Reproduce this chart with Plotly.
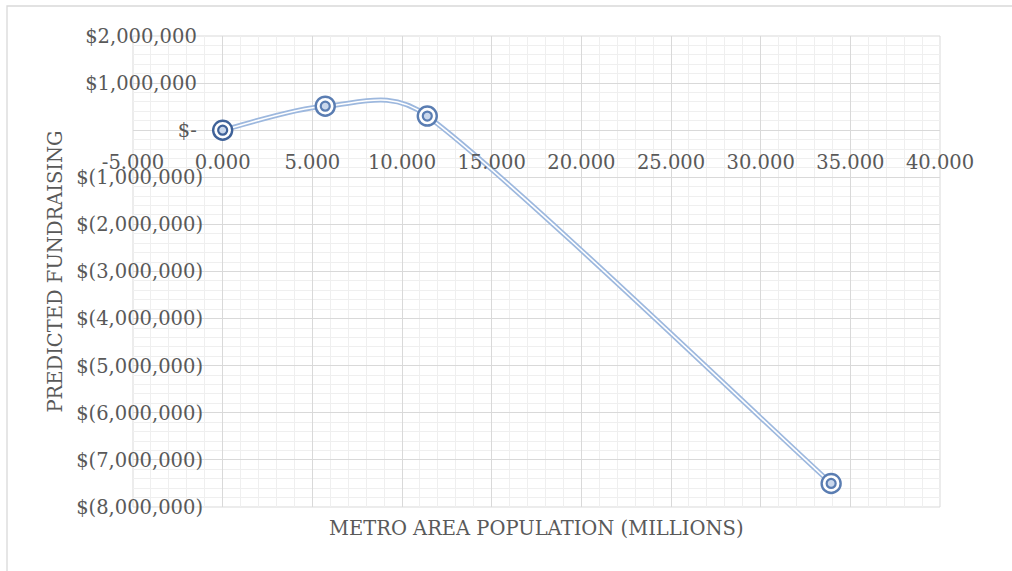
import math
import plotly.graph_objects as go

# Data
population_millions = [0.0, 5.72, 11.41, 33.93]
predicted_fundraising = [0, 510000, 300000, -7500000]

x_tick_vals = [-5, 0, 5, 10, 15, 20, 25, 30, 35, 40]
x_tick_text = ["-5.000", "0.000", "5.000", "10.000", "15.000", "20.000",
               "25.000", "30.000", "35.000", "40.000"]
y_tick_vals = [2000000, 1000000, 0, -1000000, -2000000, -3000000, -4000000,
               -5000000, -6000000, -7000000, -8000000]
y_tick_text = ["$2,000,000\u00a0", "$1,000,000\u00a0", "$-\u00a0", "$(1,000,000)",
               "$(2,000,000)", "$(3,000,000)", "$(4,000,000)", "$(5,000,000)",
               "$(6,000,000)", "$(7,000,000)", "$(8,000,000)"]

X_RANGE = [-5, 40]
Y_RANGE = [-8000000, 2000000]
W, H = 1012, 571
M = dict(l=133, r=72, t=36, b=64)
PW, PH = W - M["l"] - M["r"], H - M["t"] - M["b"]

FONT = "DejaVu Serif"
TXT = "#595959"
MAJOR = "#D9D9D9"
MINOR = "#EFEFEF"
LINE_BLUE = "#9DB8DE"
RING = "#5A7DB2"


def smooth_path(xs, ys):
    """Office-style smoothed line: cubic Bezier segments through the data points,
    expressed in data coordinates (drawn through the axes' scales)."""
    sx = PW / (X_RANGE[1] - X_RANGE[0])
    sy = PH / (Y_RANGE[1] - Y_RANGE[0])
    n = len(xs)

    def dist(i, j):
        return math.hypot((xs[j] - xs[i]) * sx, (ys[j] - ys[i]) * sy)

    arms_out, arms_in = [], []
    for i in range(n):
        a = max(i - 1, 0)
        b = min(i + 1, n - 1)
        tx, ty = (xs[b] - xs[a]) / 6.0, (ys[b] - ys[a]) / 6.0
        d_prev = dist(a, i) if i > 0 else None
        d_next = dist(i, b) if i < n - 1 else None
        f_out = f_in = 1.0
        if d_prev and d_next:
            f_out = min(1.0, math.sqrt(d_next / d_prev))
            f_in = min(1.0, math.sqrt(d_prev / d_next))
        arms_out.append((tx * f_out, ty * f_out))
        arms_in.append((tx * f_in, ty * f_in))
    path = f"M {xs[0]},{ys[0]}"
    for i in range(n - 1):
        c1 = (xs[i] + arms_out[i][0], ys[i] + arms_out[i][1])
        c2 = (xs[i + 1] - arms_in[i + 1][0], ys[i + 1] - arms_in[i + 1][1])
        path += f" C {c1[0]},{c1[1]} {c2[0]},{c2[1]} {xs[i + 1]},{ys[i + 1]}"
    return path


curve = smooth_path(population_millions, predicted_fundraising)

fig = go.Figure()
ring_colors = ["#3F6299"] + [RING] * (len(population_millions) - 1)
fig.add_trace(go.Scatter(x=population_millions, y=predicted_fundraising, mode="markers",
                         marker=dict(symbol="circle", size=19, color="white",
                                     line=dict(color=ring_colors, width=2.4)),
                         showlegend=False))
fig.add_trace(go.Scatter(x=population_millions, y=predicted_fundraising, mode="markers",
                         marker=dict(symbol="circle", size=9, color="#C9D7EC",
                                     line=dict(color=ring_colors, width=2.2)),
                         showlegend=False))

y_zero_paper = (0 - Y_RANGE[0]) / (Y_RANGE[1] - Y_RANGE[0])

fig.update_layout(
    width=W, height=H,
    margin=M,
    paper_bgcolor="white", plot_bgcolor="white",
    font=dict(family=FONT, color=TXT, size=19.5),
    xaxis=dict(range=X_RANGE, tickvals=x_tick_vals, ticktext=x_tick_text,
               anchor="free", position=y_zero_paper,
               showgrid=True, gridcolor=MAJOR, gridwidth=1,
               minor=dict(dtick=1, showgrid=True, gridcolor=MINOR, gridwidth=1),
               zeroline=False, showline=False, ticks="",
               tickfont=dict(family=FONT, size=19.5, color=TXT),
               ticklabelstandoff=18),
    yaxis=dict(range=Y_RANGE, tickvals=y_tick_vals, ticktext=y_tick_text,
               anchor="free", position=(203 - 133) / PW,
               showgrid=True, gridcolor=MAJOR, gridwidth=1,
               minor=dict(dtick=200000, showgrid=True, gridcolor=MINOR, gridwidth=1),
               zeroline=False, showline=False, ticks="",
               tickfont=dict(family=FONT, size=19.5, color=TXT)),
    shapes=[
        dict(type="rect", xref="paper", yref="paper", x0=0, y0=0, x1=1, y1=1,
             line=dict(color=MAJOR, width=1), layer="below"),
        dict(type="rect", xref="paper", yref="paper", x0=(7 - 133) / PW, y0=-0.5,
             x1=1.5, y1=(507 - 6) / PH, line=dict(color=MAJOR, width=1.3), layer="below"),
        dict(type="path", xref="x", yref="y", path=curve,
             line=dict(color=LINE_BLUE, width=5), layer="between"),
        dict(type="path", xref="x", yref="y", path=curve,
             line=dict(color="white", width=1.6), layer="between"),
    ],
    annotations=[
        dict(text="METRO AREA POPULATION (MILLIONS)", xref="paper", yref="paper",
             x=0.5, y=(507 - 528) / PH, xanchor="center", yanchor="middle",
             showarrow=False, font=dict(family=FONT, size=19.5, color=TXT)),
        dict(text="PREDICTED FUNDRAISING", xref="paper", yref="paper",
             x=(55 - 133) / PW, y=0.5, xanchor="center", yanchor="middle", textangle=-90,
             showarrow=False, font=dict(family=FONT, size=19.5, color=TXT)),
    ],
)

fig.write_html("out.html")
